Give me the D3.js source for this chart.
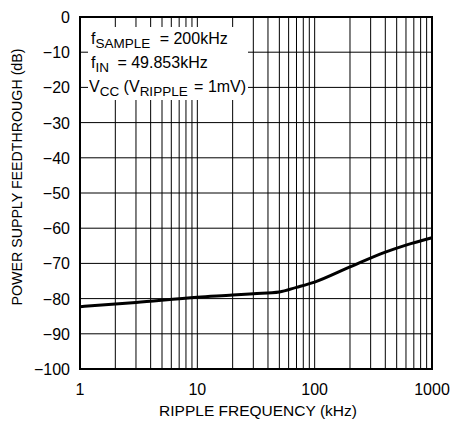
<!DOCTYPE html>
<html>
<head>
<meta charset="utf-8">
<script src="https://cdn.jsdelivr.net/npm/d3@7"></script>
<style>
  body { margin: 0; background: #fff; }
  svg { display: block; font-family: "Liberation Sans", Arial, sans-serif; }
</style>
</head>
<body>
<script>
// ripple frequency (kHz) and feedthrough (dB)
const freqs = [1, 3, 10, 20, 30, 50, 70, 100, 200, 400, 600, 1000];
const feedthrough = [-82.3, -81.1, -79.6, -79.0, -78.6, -78.1, -76.8, -75.3, -71.0, -66.8, -64.8, -62.7];

const yTicks = [0, -10, -20, -30, -40, -50, -60, -70, -80, -90, -100];
const xTicks = [1, 10, 100, 1000];

const width = 450,
  height = 421,
  margin = { top: 17, right: 18, bottom: 52, left: 80 };

const svg = d3.select("body")
  .append("svg")
  .attr("width", width)
  .attr("height", height);

const x = d3.scaleLog()
  .domain([1, 1000])
  .range([margin.left, width - margin.right]);

const y = d3.scaleLinear()
  .domain([-100, 0])
  .range([height - margin.bottom, margin.top]);

// minor + major vertical grid
const gridX = [];
for (let dec = 1; dec < 1000; dec *= 10) {
  for (let k = 1; k < 10; k++) gridX.push(dec * k);
}

const grid = svg.append("g").attr("stroke", "#000").attr("stroke-width", 1);

grid.selectAll("line.v")
  .data(gridX)
  .enter()
  .append("line")
  .attr("class", "v")
  .attr("x1", d => x(d))
  .attr("x2", d => x(d))
  .attr("y1", y(0))
  .attr("y2", y(-100));

grid.selectAll("line.h")
  .data(yTicks)
  .enter()
  .append("line")
  .attr("class", "h")
  .attr("x1", x(1))
  .attr("x2", x(1000))
  .attr("y1", d => y(d))
  .attr("y2", d => y(d));

// curve
const line = d3.line()
  .x((d, i) => x(freqs[i]))
  .y(d => y(d))
  .curve(d3.curveMonotoneX);

svg.append("path")
  .datum(feedthrough)
  .attr("fill", "none")
  .attr("stroke", "#000")
  .attr("stroke-width", 3)
  .attr("d", line);

// white box behind the conditions text
svg.append("rect")
  .attr("x", 88)
  .attr("y", 27)
  .attr("width", 160)
  .attr("height", 73)
  .attr("fill", "#fff");

// frame
svg.append("rect")
  .attr("x", x(1))
  .attr("y", y(0))
  .attr("width", x(1000) - x(1))
  .attr("height", y(-100) - y(0))
  .attr("fill", "none")
  .attr("stroke", "#000")
  .attr("stroke-width", 2);

// tick labels
svg.append("g")
  .selectAll("text")
  .data(yTicks)
  .enter()
  .append("text")
  .attr("x", 70)
  .attr("y", d => y(d) + 6)
  .attr("text-anchor", "end")
  .attr("font-size", 16)
  .text(d => d === 0 ? "0" : "\u2212" + Math.abs(d));

svg.append("g")
  .selectAll("text")
  .data(xTicks)
  .enter()
  .append("text")
  .attr("x", d => x(d))
  .attr("y", 395)
  .attr("text-anchor", "middle")
  .attr("font-size", 16)
  .text(d => d);

// axis titles
svg.append("text")
  .attr("x", 258)
  .attr("y", 416)
  .attr("text-anchor", "middle")
  .attr("font-size", 15.5)
  .text("RIPPLE FREQUENCY (kHz)");

svg.append("text")
  .attr("transform", "translate(22, 177) rotate(-90)")
  .attr("text-anchor", "middle")
  .attr("font-size", 15)
  .attr("textLength", 257)
  .attr("lengthAdjust", "spacingAndGlyphs")
  .text("POWER SUPPLY FEEDTHROUGH (dB)");

// conditions
const cond = svg.append("g").attr("font-size", 16);

const l1 = cond.append("text").attr("x", 91).attr("y", 44);
l1.append("tspan").text("f");
l1.append("tspan").attr("dy", 4).attr("font-size", 13.5).text("SAMPLE");
l1.append("tspan").attr("dy", -4).attr("dx", 5).text(" = 200kHz");

const l2 = cond.append("text").attr("x", 91).attr("y", 68);
l2.append("tspan").text("f");
l2.append("tspan").attr("dy", 4).attr("font-size", 13.5).text("IN");
l2.append("tspan").attr("dy", -4).attr("dx", 4).text(" = 49.853kHz");

const l3 = cond.append("text").attr("x", 89).attr("y", 92);
l3.append("tspan").text("V");
l3.append("tspan").attr("dy", 4).attr("font-size", 13.5).text("CC");
l3.append("tspan").attr("dy", -4).text(" (V");
l3.append("tspan").attr("dy", 4).attr("font-size", 13.5).text("RIPPLE");
l3.append("tspan").attr("dy", -4).attr("dx", 2).text(" = 1mV)");
</script>
</body>
</html>
